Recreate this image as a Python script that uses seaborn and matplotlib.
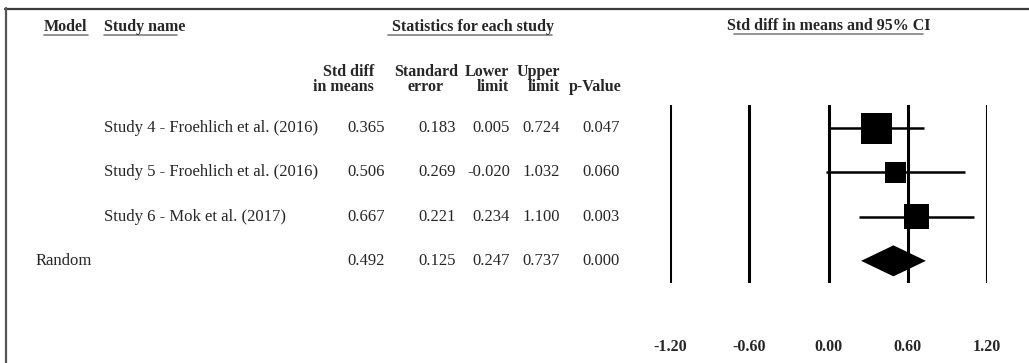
import matplotlib.pyplot as plt
import matplotlib.transforms as mtransforms
from matplotlib.lines import Line2D
import seaborn as sns
import numpy as np
import pandas as pd

# data
models = ["", "", "", "Random"]
studies = ["Study 4 - Froehlich et al. (2016)",
           "Study 5 - Froehlich et al. (2016)",
           "Study 6 - Mok et al. (2017)",
           ""]
std_diff = [0.365, 0.506, 0.667, 0.492]
std_err = [0.183, 0.269, 0.221, 0.125]
lower = [0.005, -0.020, 0.234, 0.247]
upper = [0.724, 1.032, 1.100, 0.737]
p_value = [0.047, 0.060, 0.003, 0.000]
ticks = [-1.20, -0.60, 0.00, 0.60, 1.20]

df = pd.DataFrame({"model": models, "study": studies, "est": std_diff,
                   "se": std_err, "lo": lower, "hi": upper, "p": p_value})
df["row"] = np.arange(len(df))
studies_df = df[df["model"] == ""].copy()
studies_df["w"] = 1 / studies_df["se"] ** 2
pooled = df[df["model"] == "Random"].iloc[0]

sns.set_theme(style="white")
plt.rcParams["font.family"] = ["Liberation Serif", "DejaVu Serif"]

W, H = 1029, 363
fig = plt.figure(figsize=(W / 100, H / 100), dpi=100)
fig.patch.set_facecolor("white")


def fx(px):
    return px / W


def fy(py):
    return 1 - py / H


# forest panel
ax = fig.add_axes([fx(670), fy(283), fx(987) - fx(670), fy(105) - fy(283)])
ax.set_xlim(-1.2, 1.2)
ax.set_ylim(3.5, -0.52)
for t in ticks:
    ax.axvline(t, color="black", lw=2.2, zorder=1)

ax.hlines(studies_df["row"], studies_df["lo"], studies_df["hi"],
          color="black", lw=1.8, zorder=2)
sns.scatterplot(x=studies_df["est"], y=studies_df["row"], marker="s",
                s=studies_df["w"] * 16.7, color="black", linewidth=0,
                ax=ax, zorder=3, legend=False)
h = 0.35
ax.fill([pooled["lo"], pooled["est"], pooled["hi"], pooled["est"]],
        [pooled["row"], pooled["row"] - h, pooled["row"], pooled["row"] + h],
        color="black", lw=0, zorder=3)

ax.set_xticks(ticks)
ax.set_xticklabels([f"{t:.2f}" for t in ticks], fontweight="bold", fontsize=11.5)
ax.tick_params(axis="x", length=0, pad=40)
ax.set_yticks([])
ax.set_xlabel("")
ax.set_ylabel("")
for s in ax.spines.values():
    s.set_visible(False)
ax.patch.set_alpha(0)

# table text, rows follow the forest y scale
tr = mtransforms.blended_transform_factory(fig.transFigure, ax.transData)
fs = 12
for _, r in df.iterrows():
    y = r["row"]
    if r["model"]:
        fig.text(fx(36), y, r["model"], transform=tr, fontsize=fs, va="center")
    if r["study"]:
        fig.text(fx(104), y, r["study"], transform=tr, fontsize=fs, va="center")
    fig.text(fx(385), y, f"{r['est']:.3f}", transform=tr, fontsize=fs, va="center", ha="right")
    fig.text(fx(456), y, f"{r['se']:.3f}", transform=tr, fontsize=fs, va="center", ha="right")
    fig.text(fx(510), y, f"{r['lo']:.3f}", transform=tr, fontsize=fs, va="center", ha="right")
    fig.text(fx(560), y, f"{r['hi']:.3f}", transform=tr, fontsize=fs, va="center", ha="right")
    fig.text(fx(620), y, f"{r['p']:.3f}", transform=tr, fontsize=fs, va="center", ha="right")

# headers
hs = 11.5
hb = dict(fontsize=hs, fontweight="bold", va="center")
fig.text(fx(44), fy(27), "Model", **hb)
fig.text(fx(104), fy(27), "Study name", **hb)
fig.text(fx(473), fy(27), "Statistics for each study", ha="center", **hb)
fig.text(fx(829), fy(26), "Std diff in means and 95% CI", ha="center", **hb)

fig.text(fx(374), fy(72), "Std diff", ha="right", **hb)
fig.text(fx(374), fy(87), "in means", ha="right", **hb)
fig.text(fx(426), fy(72), "Standard", ha="center", **hb)
fig.text(fx(426), fy(87), "error", ha="center", **hb)
fig.text(fx(509), fy(72), "Lower", ha="right", **hb)
fig.text(fx(509), fy(87), "limit", ha="right", **hb)
fig.text(fx(560), fy(72), "Upper", ha="right", **hb)
fig.text(fx(560), fy(87), "limit", ha="right", **hb)
fig.text(fx(622), fy(87), "p-Value", ha="right", **hb)

# underlines
for x0, x1, yy in [(44, 88, 35), (104, 177, 35), (388, 552, 35), (734, 923, 34)]:
    fig.add_artist(Line2D([fx(x0), fx(x1)], [fy(yy), fy(yy)], color="#808080", lw=1.2))

# frame (top and left)
fig.add_artist(Line2D([fx(5), fx(W)], [fy(8.5), fy(8.5)], color="#3a3a3a", lw=1.6))
fig.add_artist(Line2D([fx(5.5), fx(5.5)], [fy(8), fy(H)], color="#555555", lw=1.6))

fig.savefig("out.png", dpi=100)
